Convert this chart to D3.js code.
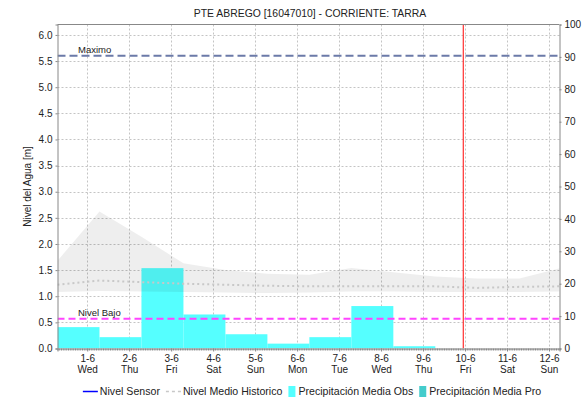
<!DOCTYPE html>
<html>
<head>
<meta charset="utf-8">
<script src="https://cdn.jsdelivr.net/npm/d3@7"></script>
<style>
  html, body { margin: 0; padding: 0; background: #fff; }
  svg { display: block; font-family: "Liberation Sans", Arial, sans-serif; }
</style>
</head>
<body>
<svg id="chart" width="582" height="404"></svg>
<script>
// ---- data -------------------------------------------------------------
const chartTitle = "PTE ABREGO [16047010] - CORRIENTE: TARRA";
const axisLabelLeft = "Nivel del Agua [m]";

// time window shown on the x axis
const timeStart = "2022-05-31T07:00";
const timeEnd   = "2022-06-12T06:00";

// daily precipitation (mm), periods start at 07:00
const precipObsStart = ["2022-05-31T07:00","2022-06-01T07:00","2022-06-02T07:00","2022-06-03T07:00",
                        "2022-06-04T07:00","2022-06-05T07:00","2022-06-06T07:00","2022-06-07T07:00",
                        "2022-06-08T07:00"];
const precipObs = [6.6, 3.5, 24.8, 10.5, 4.4, 1.5, 3.5, 13.1, 0.7];
const precipProStart = [];
const precipPro = [];

// historical water level (m): band min / max and mean
const histTimes = ["2022-05-31T07:00","2022-06-01T07:00","2022-06-02T07:00","2022-06-03T07:00",
                   "2022-06-04T07:00","2022-06-05T07:00","2022-06-06T07:00","2022-06-07T07:00",
                   "2022-06-08T07:00","2022-06-09T07:00","2022-06-10T07:00","2022-06-11T07:00",
                   "2022-06-12T07:00"];
const histMax  = [1.68, 2.62, 2.14, 1.63, 1.50, 1.43, 1.41, 1.54, 1.46, 1.38, 1.34, 1.34, 1.54];
const histMin  = [1.08, 1.10, 1.09, 1.08, 1.07, 1.06, 1.07, 1.09, 1.09, 1.08, 1.08, 1.08, 1.09];
const histMean = [1.22, 1.30, 1.27, 1.24, 1.22, 1.20, 1.19, 1.19, 1.19, 1.19, 1.16, 1.18, 1.19];

// sensor level (m) — no readings in this window
const sensorTimes = [];
const sensorLevel = [];

// reference levels (m)
const levelMaximo = 5.6;
const levelBajo = 0.57;

// current time marker
const nowTime = "2022-06-09T23:00";

// axis ticks
const leftTicks = [0,0.5,1,1.5,2,2.5,3,3.5,4,4.5,5,5.5,6];
const rightTicks = [0,10,20,30,40,50,60,70,80,90,100];

const legendItems = [
  {label: "Nivel Sensor", type: "line", color: "#0000ff"},
  {label: "Nivel Medio Historico", type: "dash", color: "#c8c8c8"},
  {label: "Precipitación Media Obs", type: "box", color: "#55ffff"},
  {label: "Precipitación Media Pro", type: "box", color: "#44cccc"}
];

// ---- layout -----------------------------------------------------------
const svg = d3.select("#chart");
const plot = {left: 57.5, right: 559.5, top: 24.5, bottom: 348.5};
const parse = d3.timeParse("%Y-%m-%dT%H:%M");

const x = d3.scaleTime().domain([parse(timeStart), parse(timeEnd)]).range([plot.left, plot.right]);
const yL = d3.scaleLinear().domain([0, 6.2]).range([plot.bottom, plot.top]);
const yR = d3.scaleLinear().domain([0, 100]).range([plot.bottom, plot.top]);

const FONT_TICK = 10;
const gridColor = "#c4c4c4";
const axisColor = "#888";

svg.append("defs").append("clipPath").attr("id", "plotClip")
  .append("rect").attr("x", plot.left).attr("y", plot.top)
  .attr("width", plot.right - plot.left).attr("height", plot.bottom - plot.top);

// title
svg.append("text").attr("x", 310).attr("y", 17).attr("text-anchor", "middle")
  .attr("font-size", 10.4).attr("fill", "#222").text(chartTitle);

// gridlines
const days = d3.timeDay.range(d3.timeDay.ceil(x.domain()[0]), x.domain()[1]);
const grid = svg.append("g");
grid.selectAll(".gv").data(days).join("line")
  .attr("x1", d => Math.round(x(d)) + 0.5).attr("x2", d => Math.round(x(d)) + 0.5)
  .attr("y1", plot.top).attr("y2", plot.bottom)
  .attr("stroke", gridColor).attr("stroke-dasharray", "2,2");
grid.selectAll(".gh").data(leftTicks.filter(t => t > 0)).join("line")
  .attr("x1", plot.left).attr("x2", plot.right)
  .attr("y1", d => Math.round(yL(d)) + 0.5).attr("y2", d => Math.round(yL(d)) + 0.5)
  .attr("stroke", gridColor).attr("stroke-dasharray", "2,2");

const body = svg.append("g").attr("clip-path", "url(#plotClip)");

// precipitation bars
const dayMs = 24 * 3600 * 1000;
function drawBars(starts, vals, color) {
  body.append("g").selectAll("rect").data(vals.map((v, i) => ({t: parse(starts[i]), v})))
    .join("rect")
    .attr("x", d => x(d.t))
    .attr("width", d => x(new Date(+d.t + dayMs)) - x(d.t))
    .attr("y", d => yR(d.v))
    .attr("height", d => yR(0) - yR(d.v))
    .attr("fill", color);
}
drawBars(precipObsStart, precipObs, "#55ffff");
drawBars(precipProStart, precipPro, "#44cccc");

// historical band
const hist = histTimes.map((t, i) => ({t: parse(t), lo: histMin[i], hi: histMax[i], m: histMean[i]}));
body.append("path").datum(hist)
  .attr("d", d3.area().x(d => x(d.t)).y0(d => yL(d.lo)).y1(d => yL(d.hi)))
  .attr("fill", "#000").attr("fill-opacity", 0.065);
body.append("path").datum(hist)
  .attr("d", d3.line().x(d => x(d.t)).y(d => yL(d.m)))
  .attr("fill", "none").attr("stroke", "#c8c8c8").attr("stroke-width", 2)
  .attr("stroke-dasharray", "2,3");

// sensor level
body.append("path").datum(sensorTimes.map((t, i) => ({t: parse(t), v: sensorLevel[i]})))
  .attr("d", d3.line().x(d => x(d.t)).y(d => yL(d.v)))
  .attr("fill", "none").attr("stroke", "#0000ff").attr("stroke-width", 1.5);

// reference levels
body.append("line").attr("x1", plot.left).attr("x2", plot.right)
  .attr("y1", yL(levelMaximo)).attr("y2", yL(levelMaximo))
  .attr("stroke", "#6b7aa8").attr("stroke-width", 2).attr("stroke-dasharray", "8,4");
body.append("line").attr("x1", plot.left).attr("x2", plot.right)
  .attr("y1", yL(levelBajo)).attr("y2", yL(levelBajo))
  .attr("stroke", "#ff44ff").attr("stroke-width", 2).attr("stroke-dasharray", "7,4");
svg.append("text").attr("x", 78).attr("y", yL(levelMaximo) - 2.5)
  .attr("font-size", 9.5).attr("fill", "#222").text("Maximo");
svg.append("text").attr("x", 78).attr("y", yL(levelBajo) - 3)
  .attr("font-size", 9.5).attr("fill", "#222").text("Nivel Bajo");

// current time marker
body.append("line")
  .attr("x1", x(parse(nowTime))).attr("x2", x(parse(nowTime)))
  .attr("y1", plot.top).attr("y2", plot.bottom)
  .attr("stroke", "#ff3030").attr("stroke-width", 1.2);

// plot frame (top edge)
svg.append("line").attr("x1", plot.left).attr("x2", plot.right)
  .attr("y1", plot.top).attr("y2", plot.top).attr("stroke", axisColor);

// left axis
const gL = svg.append("g").attr("transform", `translate(${plot.left},0)`)
  .call(d3.axisLeft(yL).tickValues(leftTicks).tickFormat(d3.format(".1f")).tickSize(2).tickPadding(3));
// right axis
const gR = svg.append("g").attr("transform", `translate(${plot.right},0)`)
  .call(d3.axisRight(yR).tickValues(rightTicks).tickFormat(d3.format("d")).tickSize(2).tickPadding(3));
// bottom axis: hourly minor ticks, daily labels
const gBm = svg.append("g").attr("transform", `translate(0,${plot.bottom})`)
  .call(d3.axisBottom(x).ticks(d3.timeHour.every(1)).tickFormat("").tickSize(2));
const gB = svg.append("g").attr("transform", `translate(0,${plot.bottom})`)
  .call(d3.axisBottom(x).tickValues(days).tickFormat(d3.timeFormat("%-d-%-m")).tickSize(3).tickPadding(3));
gB.selectAll(".tick text").each(function(d) {
  d3.select(this).append("tspan").attr("x", 0).attr("dy", "1.15em").text(d3.timeFormat("%a")(d));
});

[gL, gR, gB, gBm].forEach(g => {
  g.select(".domain").attr("stroke", axisColor);
  g.selectAll(".tick line").attr("stroke", axisColor);
  g.selectAll(".tick text").attr("font-size", FONT_TICK).attr("fill", "#222")
    .attr("font-family", "'Liberation Sans', Arial, sans-serif");
});
gBm.select(".domain").remove();

// y axis label
svg.append("text").attr("transform", `translate(31,${(plot.top + plot.bottom) / 2}) rotate(-90)`)
  .attr("text-anchor", "middle").attr("font-size", 10).attr("fill", "#222").text(axisLabelLeft);

// legend
const legend = svg.append("g");
let lx = 0;
const ly = 395;
legendItems.forEach(item => {
  const g = legend.append("g").attr("transform", `translate(${lx},0)`);
  let sw;
  if (item.type === "box") {
    g.append("rect").attr("x", 0).attr("y", ly - 9).attr("width", 7).attr("height", 11).attr("fill", item.color);
    sw = 10;
  } else {
    g.append("line").attr("x1", 0).attr("x2", 15).attr("y1", ly - 3.5).attr("y2", ly - 3.5)
      .attr("stroke", item.color).attr("stroke-width", 1.5)
      .attr("stroke-dasharray", item.type === "dash" ? "3,3" : null);
    sw = 17;
  }
  const t = g.append("text").attr("x", sw).attr("y", ly).attr("font-size", 10.6).attr("fill", "#222").text(item.label);
  lx += sw + t.node().getComputedTextLength() + 6;
});
legend.attr("transform", `translate(${312 - (lx - 6) / 2},0)`);
</script>
</body>
</html>
